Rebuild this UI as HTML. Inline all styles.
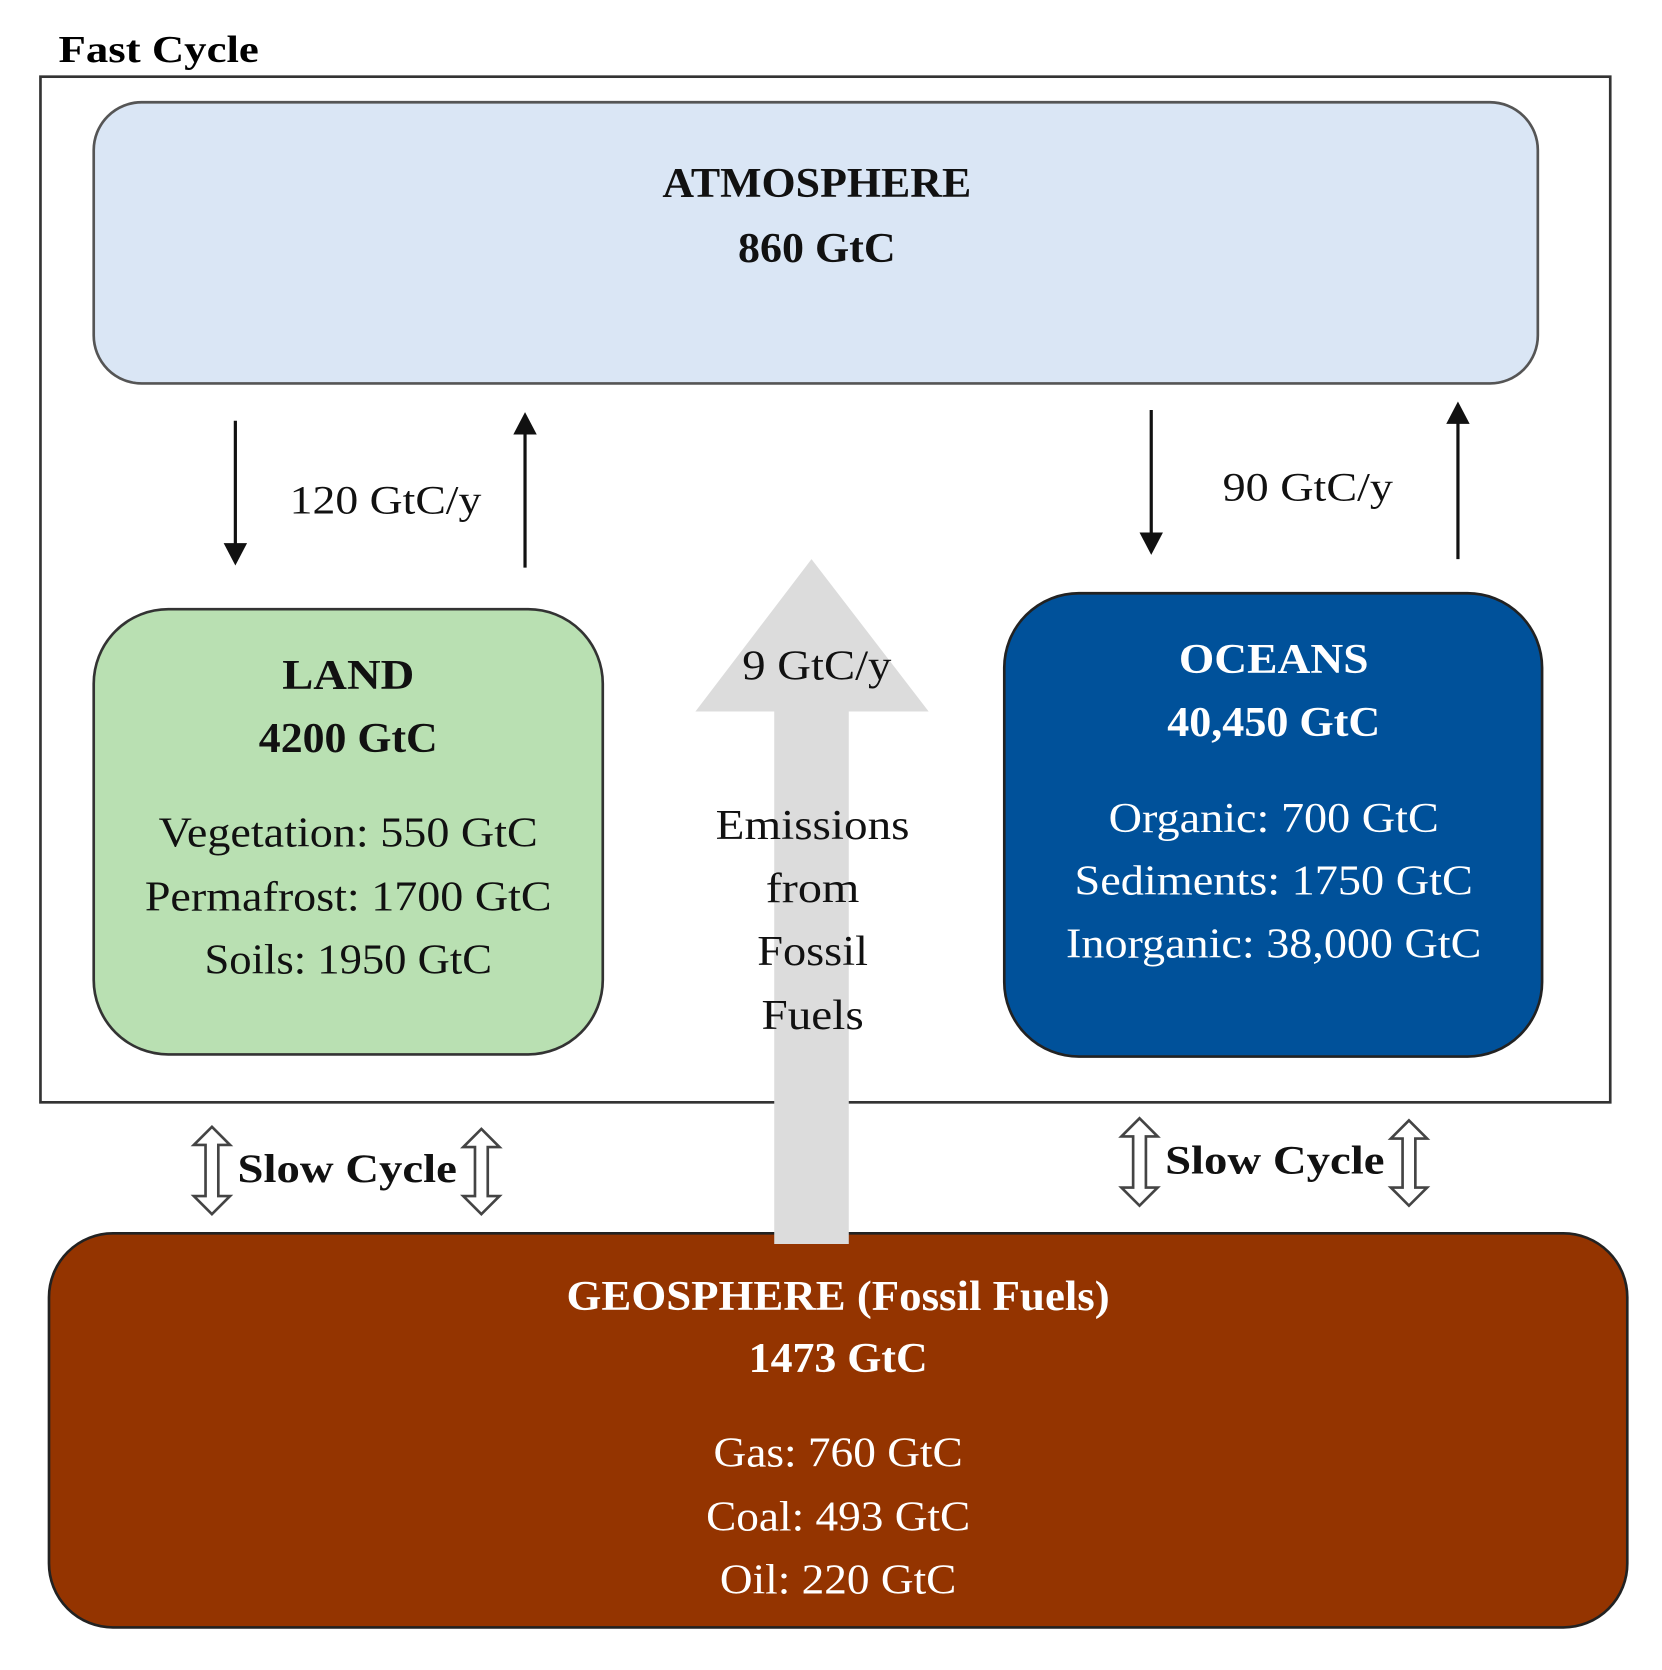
<!DOCTYPE html>
<html><head><meta charset="utf-8"><style>
html,body{margin:0;padding:0;background:#fff;}
svg{display:block;}
text{font-family:"Liberation Serif",serif;}
</style></head><body>
<svg width="1662" height="1670" viewBox="0 0 1560.6 1568" preserveAspectRatio="none" xmlns="http://www.w3.org/2000/svg">
<text x="55" y="58" font-size="36" font-weight="bold" textLength="188" lengthAdjust="spacingAndGlyphs">Fast Cycle</text>
<rect x="38" y="72" width="1474" height="963" fill="none" stroke="#333" stroke-width="2.5"/>
<rect x="88" y="96" width="1356" height="264" rx="45" fill="#dae6f5" stroke="#555" stroke-width="2.5"/>
<g text-anchor="middle" font-weight="bold" font-size="40" fill="#111">
<text x="767" y="185" textLength="290" lengthAdjust="spacingAndGlyphs">ATMOSPHERE</text>
<text x="767" y="246" textLength="148" lengthAdjust="spacingAndGlyphs">860 GtC</text>
</g>
<g stroke="#111" stroke-width="3">
<line x1="221" y1="395" x2="221" y2="512"/>
<line x1="493" y1="406" x2="493" y2="533"/>
<line x1="1081" y1="385" x2="1081" y2="502"/>
<line x1="1369" y1="396" x2="1369" y2="525"/>
</g>
<g fill="#111">
<polygon points="210,510 232,510 221,531"/>
<polygon points="482,408 504,408 493,387"/>
<polygon points="1070,500 1092,500 1081,521"/>
<polygon points="1358,398 1380,398 1369,377"/>
</g>
<text x="272" y="482" font-size="38" textLength="180" lengthAdjust="spacingAndGlyphs" fill="#111">120 GtC/y</text>
<text x="1148" y="470" font-size="38" textLength="160" lengthAdjust="spacingAndGlyphs" fill="#111">90 GtC/y</text>
<rect x="88" y="572" width="478" height="418" rx="70" fill="#b9e0b2" stroke="#333" stroke-width="2.5"/>
<g text-anchor="middle" font-size="40" fill="#111">
<text x="327" y="647" font-weight="bold" textLength="124" lengthAdjust="spacingAndGlyphs">LAND</text>
<text x="327" y="706" font-weight="bold" textLength="168" lengthAdjust="spacingAndGlyphs">4200 GtC</text>
<text x="327" y="795" textLength="356" lengthAdjust="spacingAndGlyphs">Vegetation: 550 GtC</text>
<text x="327" y="855" textLength="382" lengthAdjust="spacingAndGlyphs">Permafrost: 1700 GtC</text>
<text x="327" y="914" textLength="270" lengthAdjust="spacingAndGlyphs">Soils: 1950 GtC</text>
</g>
<rect x="943" y="557" width="505" height="435" rx="70" fill="#00519a" stroke="#222" stroke-width="2.5"/>
<g text-anchor="middle" font-size="40" fill="#fff">
<text x="1196" y="632" font-weight="bold" textLength="178" lengthAdjust="spacingAndGlyphs">OCEANS</text>
<text x="1196" y="691" font-weight="bold" textLength="200" lengthAdjust="spacingAndGlyphs">40,450 GtC</text>
<text x="1196" y="781" textLength="310" lengthAdjust="spacingAndGlyphs">Organic: 700 GtC</text>
<text x="1196" y="840" textLength="374" lengthAdjust="spacingAndGlyphs">Sediments: 1750 GtC</text>
<text x="1196" y="899" textLength="390" lengthAdjust="spacingAndGlyphs">Inorganic: 38,000 GtC</text>
</g>
<rect x="46" y="1158" width="1482" height="370" rx="60" fill="#943400" stroke="#222" stroke-width="2.5"/>
<polygon points="762,525 872,668 797,668 797,1168 727,1168 727,668 653,668" fill="#dcdcdc"/>
<g text-anchor="middle" font-size="40" fill="#111">
<text x="767" y="638" textLength="140" lengthAdjust="spacingAndGlyphs">9 GtC/y</text>
<text x="763" y="788" textLength="182" lengthAdjust="spacingAndGlyphs">Emissions</text>
<text x="763" y="847" textLength="88" lengthAdjust="spacingAndGlyphs">from</text>
<text x="763" y="906" textLength="104" lengthAdjust="spacingAndGlyphs">Fossil</text>
<text x="763" y="966" textLength="96" lengthAdjust="spacingAndGlyphs">Fuels</text>
</g>
<g text-anchor="middle" font-size="40" fill="#fff">
<text x="787" y="1230" font-weight="bold" textLength="510" lengthAdjust="spacingAndGlyphs">GEOSPHERE (Fossil Fuels)</text>
<text x="787" y="1288" font-weight="bold" textLength="168" lengthAdjust="spacingAndGlyphs">1473 GtC</text>
<text x="787" y="1377" textLength="234" lengthAdjust="spacingAndGlyphs">Gas: 760 GtC</text>
<text x="787" y="1437" textLength="248" lengthAdjust="spacingAndGlyphs">Coal: 493 GtC</text>
<text x="787" y="1496" textLength="222" lengthAdjust="spacingAndGlyphs">Oil: 220 GtC</text>
</g>
<g fill="#fff" stroke="#444" stroke-width="2.5">
<path d="M199,1058 l17,17 h-11 v48 h11 l-17,17 l-17,-17 h11 v-48 h-11 z"/>
<path d="M452,1060 l17,17 h-11 v46 h11 l-17,17 l-17,-17 h11 v-46 h-11 z"/>
<path d="M1070,1050 l17,17 h-11 v48 h11 l-17,17 l-17,-17 h11 v-48 h-11 z"/>
<path d="M1323,1052 l17,17 h-11 v46 h11 l-17,17 l-17,-17 h11 v-46 h-11 z"/>
</g>
<text x="223" y="1110" font-size="38" font-weight="bold" textLength="206" lengthAdjust="spacingAndGlyphs" fill="#111">Slow Cycle</text>
<text x="1094" y="1102" font-size="38" font-weight="bold" textLength="206" lengthAdjust="spacingAndGlyphs" fill="#111">Slow Cycle</text>
</svg>
</body></html>
